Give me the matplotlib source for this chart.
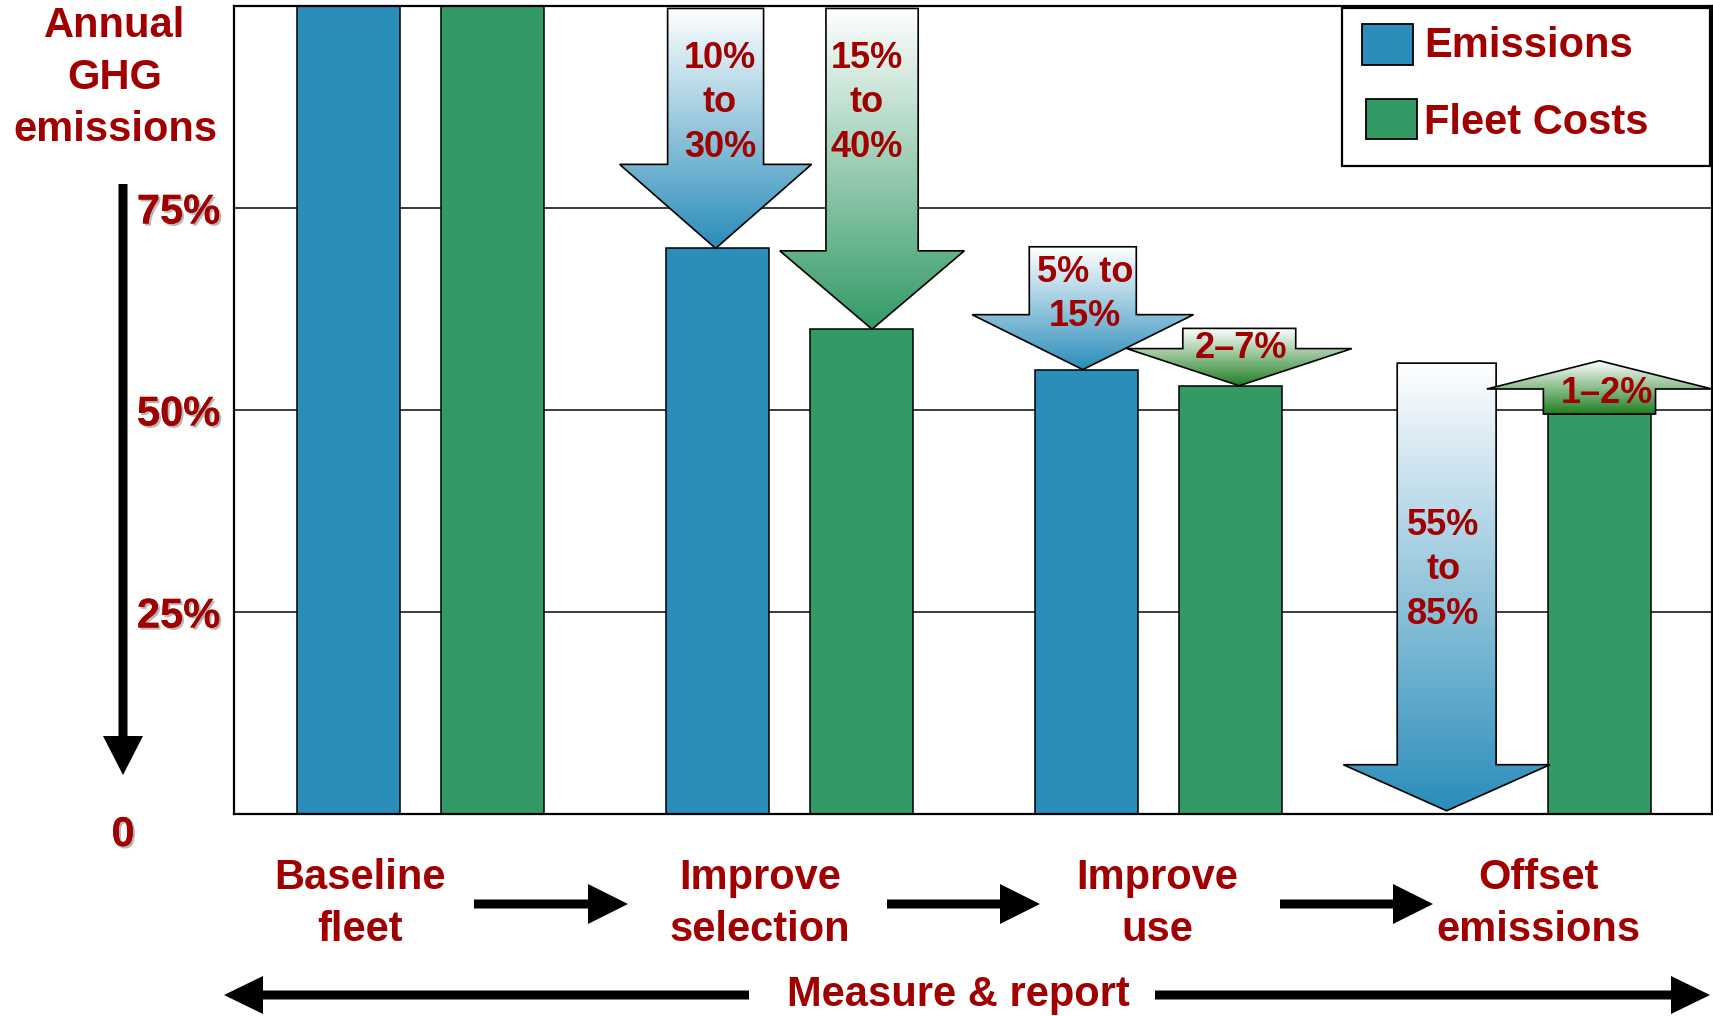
import numpy as np
import matplotlib
matplotlib.use("Agg")
import matplotlib.pyplot as plt
import matplotlib.patheffects as pe
from matplotlib.patches import Polygon, Rectangle
from matplotlib.colors import LinearSegmentedColormap

plt.rcParams['font.family'] = ['Liberation Sans', 'DejaVu Sans']
plt.rcParams['font.weight'] = 'bold'

# --------------------------------------------------------------------------- #
# data
categories = ['Baseline\nfleet', 'Improve\nselection', 'Improve\nuse', 'Offset\nemissions']
emissions = [100, 70, 55, 0]
fleet_costs = [100, 60, 53, 49.5]
y_ticks = [25, 50, 75]
y_tick_labels = ['25%', '50%', '75%']

# reduction / increase arrows: label, start level, end level
change_labels = ['10%\nto\n30%', '15%\nto\n40%', '5% to\n15%', '2–7%', '55%\nto\n85%', '1–2%']
change_from = [99.7, 99.7, 70.2, 60.1, 55.8, 49.5]
change_to = [70, 60, 55, 53, 0.4, 56.1]

# --------------------------------------------------------------------------- #
# styling
W, H = 1713, 1016
red = '#A00000'
blue = '#2A8DBA'
green = '#339A66'
dark_green = '#1F7F22'

# arrow shapes: x centre, shaft half width, head half width, head length, colour
arrow_shape = [
    (0.805, 0.130, 0.260, 10.4, blue),
    (1.229, 0.125, 0.250, 9.7, green),
    (1.800, 0.145, 0.300, 6.8, blue),
    (2.224, 0.153, 0.305, 4.6, dark_green),
    (2.786, 0.134, 0.280, 5.7, blue),
    (3.200, 0.152, 0.305, 3.5, dark_green),
]
# label anchor for each arrow (x, y in data units)
label_pos = [(0.817, 88.0), (1.215, 88.0), (1.806, 64.3), (2.229, 57.6), (2.777, 30.2), (3.221, 52.0)]

shadow = [pe.withSimplePatchShadow(offset=(1.5, -1.5), shadow_rgbFace='#888888', alpha=0.6), pe.Normal()]


def gradient_arrow(ax, x, half_w, half_h, head_len, y0, y1, color, z):
    # arrow from level y0 to y1 filled with a white -> colour vertical gradient
    d = 1 if y1 > y0 else -1
    yb = y1 - d * head_len
    verts = [(x - half_w, y0), (x + half_w, y0), (x + half_w, yb), (x + half_h, yb),
             (x, y1), (x - half_h, yb), (x - half_w, yb)]
    poly = Polygon(verts, closed=True, facecolor='none', edgecolor='black', lw=1.2, zorder=z + 0.1)
    ax.add_patch(poly)
    lo, hi = min(y0, y1), max(y0, y1)
    cmap = LinearSegmentedColormap.from_list('fade', [color, '#FFFFFF'])
    grad = np.linspace(0, 1, 256).reshape(-1, 1)
    im = ax.imshow(grad, cmap=cmap, extent=[x - half_h, x + half_h, lo, hi], origin='lower',
                   aspect='auto', interpolation='bilinear', zorder=z)
    im.set_clip_path(poly)


fig = plt.figure(figsize=(W / 100, H / 100), dpi=100)
ax = fig.add_axes([234 / W, 1 - 814 / H, (1712 - 234) / W, (814 - 6) / H])

# bars
x = np.arange(len(categories))
bw = 0.28
for i in x:
    if emissions[i] > 0:
        ax.bar(i - 0.19, emissions[i], bw, color=blue, edgecolor='black', lw=1.1, zorder=2)
    ax.bar(i + 0.20, fleet_costs[i], bw, color=green, edgecolor='black', lw=1.1, zorder=2)

# arrows + labels
for k, (cx, hw, hh, hl, col) in enumerate(arrow_shape):
    gradient_arrow(ax, cx, hw, hh, hl, change_from[k], change_to[k], col, 3 + k)
    lx, ly = label_pos[k]
    ax.text(lx, ly, change_labels[k], ha='center', va='center', fontsize=26, color=red,
            linespacing=1.36, zorder=3.5 + k)

ax.set_xlim(-0.5, 3.505)
ax.set_ylim(0, 100)
ax.set_xticks([])
ax.set_yticks(y_ticks, y_tick_labels)
ax.tick_params(axis='y', length=0, pad=10, labelsize=30, labelcolor=red)
for lbl in ax.get_yticklabels():
    lbl.set_fontweight('bold')
    lbl.set_path_effects(shadow)
ax.set_axisbelow(True)
ax.yaxis.grid(True, color='#1a1a1a', lw=1.2)
for s in ax.spines.values():
    s.set_linewidth(1.6)

# --------------------------------------------------------------------------- #
# overlay in pixel coordinates for the text and arrows around the chart
ov = fig.add_axes([0, 0, 1, 1], zorder=10)
ov.set_xlim(0, W)
ov.set_ylim(H, 0)
ov.axis('off')


def px_arrow(x0, x1, y, shaft, head_w, head_l, both=False, vertical=False):
    if vertical:
        # downward arrow from y0=x0 to tip x1 at horizontal position y
        verts = [(y - shaft, x0), (y + shaft, x0), (y + shaft, x1 - head_l), (y + head_w, x1 - head_l),
                 (y, x1), (y - head_w, x1 - head_l), (y - shaft, x1 - head_l)]
    elif both:
        verts = [(x0, y), (x0 + head_l, y - head_w), (x0 + head_l, y - shaft), (x1 - head_l, y - shaft),
                 (x1 - head_l, y - head_w), (x1, y), (x1 - head_l, y + head_w), (x1 - head_l, y + shaft),
                 (x0 + head_l, y + shaft), (x0 + head_l, y + head_w)]
    else:
        verts = [(x0, y - shaft), (x1 - head_l, y - shaft), (x1 - head_l, y - head_w), (x1, y),
                 (x1 - head_l, y + head_w), (x1 - head_l, y + shaft), (x0, y + shaft)]
    ov.add_patch(Polygon(verts, closed=True, facecolor='black', edgecolor='none'))


# y-axis title and direction arrow
ov.text(115, 78, 'Annual\nGHG\nemissions', ha='center', va='center', fontsize=30, color=red, linespacing=1.38)
px_arrow(184, 775, 123, 4.5, 20, 39, vertical=True)
ov.text(123, 835, '0', ha='center', va='center', fontsize=30, color=red, path_effects=shadow)

# legend
ov.add_patch(Rectangle((1342, 8), 368, 158, facecolor='white', edgecolor='black', lw=1.6))
ov.add_patch(Rectangle((1362, 24), 51, 41, facecolor=blue, edgecolor='black', lw=1.3))
ov.add_patch(Rectangle((1366, 99), 51, 40, facecolor=green, edgecolor='black', lw=1.3))
ov.text(1424, 46, 'Emissions', ha='left', va='center', fontsize=30, color=red)
ov.text(1424, 123, 'Fleet Costs', ha='left', va='center', fontsize=30, color=red)

# stage labels and flow arrows
stage_x = [360, 760, 1157, 1538]
for sx, cat in zip(stage_x, categories):
    ov.text(sx, 904, cat, ha='center', va='center', fontsize=30, color=red, linespacing=1.4)
for a0, a1 in [(474, 628), (887, 1040), (1280, 1433)]:
    px_arrow(a0, a1, 904, 4.5, 20, 40)

# measure & report bar
px_arrow(224, 1710, 995, 4.5, 19, 39, both=True)
ov.add_patch(Rectangle((749, 985), 1155 - 749, 20, facecolor='white', edgecolor='none'))
ov.text(958, 995, 'Measure & report', ha='center', va='center', fontsize=30, color=red)

fig.savefig('out.png', dpi=100)
